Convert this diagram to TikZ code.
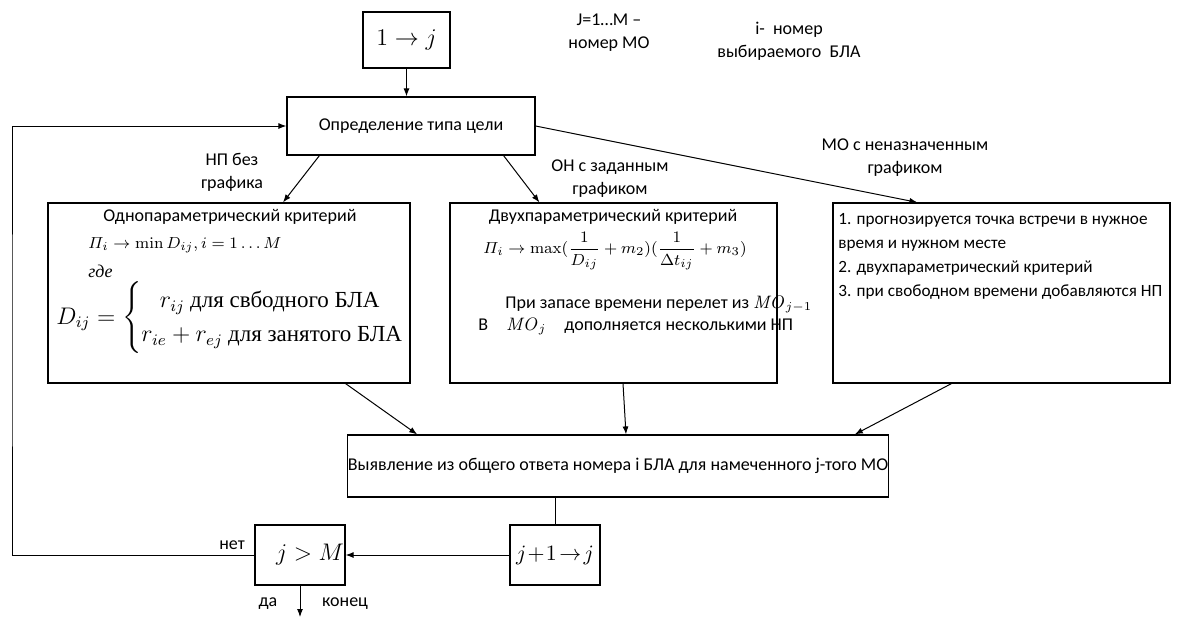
\documentclass[tikz,border=0pt]{standalone}
\usepackage{amsmath}
\usepackage[no-math]{fontspec}
\setmainfont{Carlito}
\newfontfamily\cyrserif{Liberation Serif}
\usetikzlibrary{arrows.meta,positioning}

\begin{document}
\begin{tikzpicture}[x=0.5pt,y=-0.5pt,
    box/.style={draw,line width=0.6pt,inner sep=0pt},
    lbl/.style={font=\fontsize{9}{11.5}\selectfont,inner sep=0pt,align=center},
    arr/.style={-{Latex[length=4pt,width=3pt]},line width=0.5pt}]
        \useasboundingbox (0,0) rectangle (1182,617);
        % Boxes
        \node[box,minimum width=43.5pt,minimum height=28pt] (start) at (406.5,40) {\fontsize{13}{15}\selectfont$1\rightarrow j$};
        \node[box,lbl,minimum width=124pt,minimum height=29pt] (opr) at (411,126) {Определение типа цели};
        \node[box,minimum width=181pt,minimum height=90pt] (odn) at (229,293) {};
        \node[box,minimum width=163.5pt,minimum height=90pt] (dvu) at (613.5,293) {};
        \node[box,minimum width=168.5pt,minimum height=90pt] (mo) at (1001.5,293) {};
        \node[box,lbl,minimum width=270pt,minimum height=31pt] (vyy) at (618,466) {Выявление из общего ответа номера i БЛА для намеченного j-того МО};
        \node[box,minimum width=45pt,minimum height=30pt] (inc) at (555,555) {\fontsize{11}{13}\selectfont$j\!+\!1\!\rightarrow\! j$};
        \node[box,minimum width=45pt,minimum height=30pt] (chk) at (300,555) {\fontsize{12}{14}\selectfont\hspace*{10pt}$j>M$};
        % Notes at the top
        \node[lbl] (jnote) at (609,33) {J=1…M –\\номер МО};
        \node[lbl] (inote) at (789,41) {i-\ \ номер\\выбираемого\ \ БЛА};
        % Text in the left box
        \node[lbl] (odnT) at (230,217) {Однопараметрический критерий};
        \node[lbl,anchor=west,font=\fontsize{8.5}{10}\selectfont] (odnF) at (88,245) {$\varPi_i \rightarrow \min D_{ij}, i=1\ldots M$};
        \node[lbl,anchor=west] (odnG) at (88,271) {\cyrserif\itshape где};
        \node[lbl,anchor=west,font=\fontsize{11.5}{14}\selectfont] (odnD) at (56,318) {$D_{ij}=\begin{cases}\hspace{0.8em}r_{ij}\ \text{\cyrserif для свбодного БЛА}\\ r_{ie}+r_{ej}\ \text{\cyrserif для занятого БЛА}\end{cases}$};
        % Text in the middle box
        \node[lbl] (dvuT) at (613,217) {Двухпараметрический критерий};
        \node[lbl,font=\fontsize{8.5}{10}\selectfont] (dvuF) at (615,251) {$\varPi_i \rightarrow \max(\dfrac{1}{D_{ij}}+m_2)(\dfrac{1}{\Delta t_{ij}}+m_3)$};
        \node[lbl,anchor=west] (dvu1) at (505,305) {При запасе времени перелет из $\mathit{MO}_{j-1}$};
        \node[lbl,anchor=west] (dvu2) at (478,327) {В\quad $\mathit{MO}_j$\quad дополняется несколькими НП};
        % Text in the right box
        \node[lbl,anchor=north west,align=left,font=\fontsize{8.6}{12}\selectfont] (moT) at (838,213) {1. прогнозируется точка встречи в нужное\\время и нужном месте\\2. двухпараметрический критерий\\3. при свободном времени добавляются НП};
        % Labels of the branches
        \node[lbl] (lbl1) at (232,172) {НП без\\графика};
        \node[lbl] (lbl2) at (610,179) {ОН с заданным\\графиком};
        \node[lbl] (lbl3) at (905,158) {МО с неназначенным\\графиком};
        \node[lbl] (net) at (232,545) {нет};
        \node[lbl] (da) at (268,604) {да};
        \node[lbl] (kon) at (345,604) {конец};
        % Connectors
        \coordinate (back) at (12,340);
        \coordinate (fin) at (300,617);
        \draw[arr] (start.south) -- (start.south |- opr.north);
        \draw[arr] ([xshift=16.5pt]opr.south west) -- ([xshift=27pt]odn.north);
        \draw[arr] ([xshift=-16pt]opr.south east) -- ([xshift=45pt]dvu.north west);
        \draw[arr] (opr.east) -- ([xshift=42.5pt]mo.north west);
        \draw[arr] ([xshift=-32.5pt]odn.south east) -- ([xshift=35pt]vyy.north west);
        \draw[arr] ([xshift=4.75pt]dvu.south) -- ([xshift=4pt]vyy.north);
        \draw[arr] ([xshift=59.5pt]mo.south west) -- ([xshift=-17pt]vyy.north east);
        \draw[line width=0.5pt] (inc.north |- vyy.south) -- (inc.north);
        \draw[arr] (inc.west) -- (chk.east);
        \draw[arr] (chk.west) -| (back) |- (opr.west);
        \draw[arr] (chk.south) -- (fin);
\end{tikzpicture}
\end{document}
